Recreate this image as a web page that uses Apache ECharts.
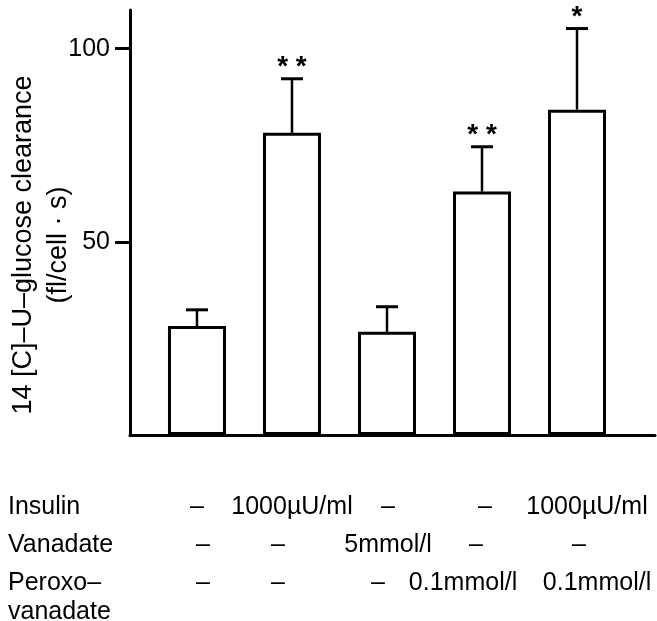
<!DOCTYPE html>
<html>
<head>
<meta charset="utf-8">
<script src="https://cdn.jsdelivr.net/npm/echarts@6/dist/echarts.min.js"></script>
<style>html,body{margin:0;padding:0;background:#fff}#c{width:657px;height:621px}</style>
</head>
<body>
<div id="c"></div>
<script>
// ---- data ----
var groups = [1, 2, 3, 4, 5];
var clearance = [28.2, 78.2, 26.7, 63.0, 84.2];
var sem = [4.2, 14.0, 6.5, 11.6, 21.0];
var significance = ['', '**', '', '**', '*'];
var yTicks = [50, 100];
var yTitle = ['14 [C]\u2013U\u2013glucose clearance', '(fl/cell \u00b7 s)'];
var rowLabels = ['Insulin', 'Vanadate', 'Peroxo\u2013\nvanadate'];
var insulinRow = ['\u2013', '1000\u00b5U/ml', '\u2013', '\u2013', '1000\u00b5U/ml'];
var vanadateRow = ['\u2013', '\u2013', '5mmol/l', '\u2013', '\u2013'];
var peroxoRow = ['\u2013', '\u2013', '\u2013', '0.1mmol/l', '0.1mmol/l'];

// ---- layout ----
var FONT = '"Liberation Sans", Arial, sans-serif';
var FS = 25;
var rows = [insulinRow, vanadateRow, peroxoRow];
var rowY = [507, 545, 583];
var cellX = [
  [197, 292, 388, 485, 587],
  [203, 278, 388, 476, 579],
  [203, 278, 378, 463, 597]
];

var chart = echarts.init(document.getElementById('c'), null, {renderer: 'canvas'});

var graphics = [];
graphics.push({type: 'text', x: 24, y: 245, rotation: Math.PI / 2,
  style: {text: yTitle[0], font: '27px ' + FONT, fill: '#000', textAlign: 'center', textVerticalAlign: 'middle'}});
graphics.push({type: 'text', x: 59, y: 245, rotation: Math.PI / 2,
  style: {text: yTitle[1], font: '27px ' + FONT, fill: '#000', textAlign: 'center', textVerticalAlign: 'middle'}});
rowLabels.forEach(function (t, i) {
  graphics.push({type: 'text', x: 8, y: rowY[i] - 14,
    style: {text: t, font: FS + 'px ' + FONT, fill: '#000', textAlign: 'left', textVerticalAlign: 'top', lineHeight: 29}});
});
rows.forEach(function (r, i) {
  r.forEach(function (t, j) {
    graphics.push({type: 'text', x: cellX[i][j], y: rowY[i],
      style: {text: t, font: FS + 'px ' + FONT, fill: '#000', textAlign: 'center', textVerticalAlign: 'middle'}});
  });
});

chart.setOption({
  animation: false,
  backgroundColor: '#fff',
  grid: {left: 130, right: 2, top: 10, bottom: 186, containLabel: false},
  xAxis: {
    type: 'value', min: 0.295, max: 5.821,
    axisLine: {show: true, onZero: false, lineStyle: {color: '#000', width: 3}},
    axisTick: {show: false}, axisLabel: {show: false}, splitLine: {show: false}
  },
  yAxis: {
    type: 'value', min: 0, max: 110, interval: 50,
    axisLine: {show: true, lineStyle: {color: '#000', width: 3}},
    axisTick: {show: true, customValues: yTicks, length: 15, inside: false, lineStyle: {color: '#000', width: 3}},
    axisLabel: {show: true, customValues: yTicks, margin: 20, color: '#000', fontSize: FS, fontFamily: FONT},
    splitLine: {show: false}
  },
  graphic: graphics,
  series: [
    {
      type: 'bar',
      data: groups.map(function (g, i) { return [g, clearance[i]]; }),
      barWidth: 58,
      itemStyle: {color: '#fff', borderColor: '#000', borderWidth: 3},
      z: 2
    },
    {
      type: 'custom',
      data: groups.map(function (g, i) { return [g, clearance[i], clearance[i] + sem[i], i]; }),
      renderItem: function (params, api) {
        var x = api.value(0);
        var lo = api.coord([x, api.value(1)]);
        var hi = api.coord([x, api.value(2)]);
        var idx = api.value(3);
        var cap = 11;
        var children = [
          {type: 'line', shape: {x1: lo[0], y1: lo[1], x2: hi[0], y2: hi[1]}, style: {stroke: '#000', lineWidth: 2.5}},
          {type: 'line', shape: {x1: hi[0] - cap, y1: hi[1], x2: hi[0] + cap, y2: hi[1]}, style: {stroke: '#000', lineWidth: 3}}
        ];
        var s = significance[idx];
        if (s) {
          children.push({type: 'text', x: hi[0], y: hi[1] - 11,
            style: {text: s.split('').join(' '), font: 'bold 28px ' + FONT, fill: '#000', textAlign: 'center', textVerticalAlign: 'middle'}});
        }
        return {type: 'group', children: children};
      },
      z: 3
    }
  ]
});
</script>
</body>
</html>
